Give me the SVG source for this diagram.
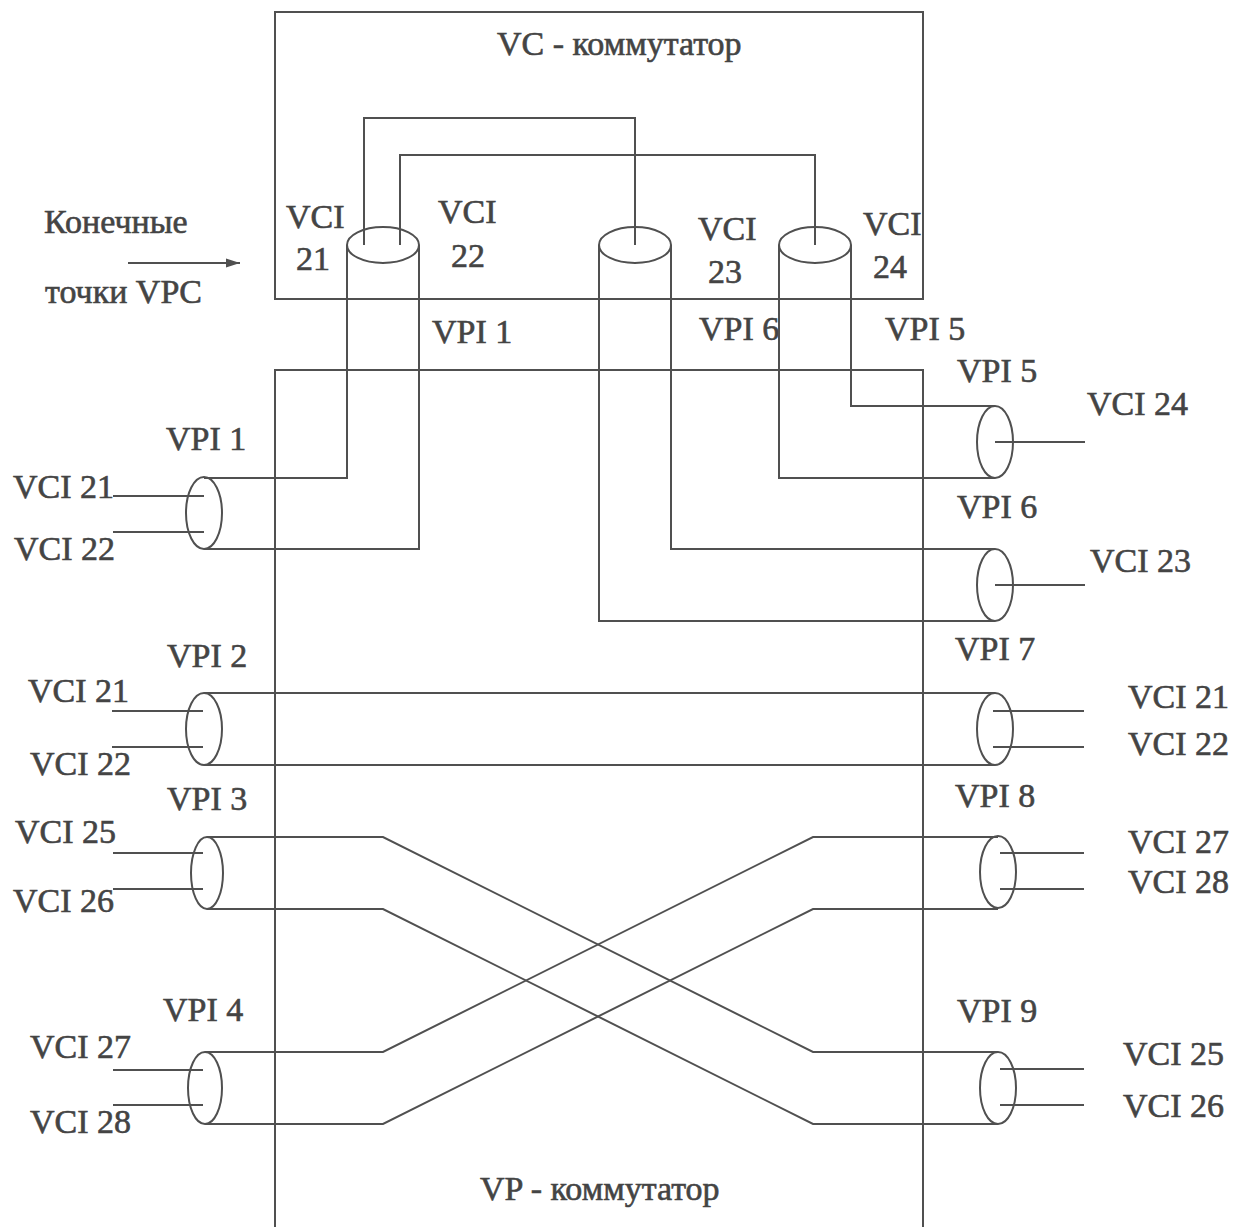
<svg xmlns="http://www.w3.org/2000/svg" width="1245" height="1227" viewBox="0 0 1245 1227">
<style>
  .ln{fill:none;stroke:#505050;stroke-width:2;stroke-linejoin:miter}
  .w{fill:none;stroke:#505050;stroke-width:2}
  .el{fill:none;stroke:#505050;stroke-width:2}
  text{font-family:"Liberation Serif","Times New Roman",serif;font-size:34px;fill:#444;stroke:#444;stroke-width:0.6}
</style>
<defs>
  <marker id="ah" viewBox="0 0 14 10" refX="14" refY="5" markerWidth="14" markerHeight="10" markerUnits="userSpaceOnUse" orient="auto">
    <path d="M0,0.5 L14,5 L0,9.5 z" fill="#505050"/>
  </marker>
</defs>
<rect width="1245" height="1227" fill="#fff"/>

<g id="vc-switch">
  <rect class="ln" x="275" y="12" width="648" height="287"/>
  <text x="497" y="55">VC - коммутатор</text>
</g>

<g id="vp-switch">
  <path class="ln" d="M275,1227 V370 H923 V1227"/>
  <text x="480" y="1200">VP - коммутатор</text>
</g>

<g id="vpc-endpoints">
  <text x="44" y="233">Конечные</text>
  <text x="45" y="303">точки VPC</text>
  <line class="w" x1="128" y1="263" x2="240" y2="263" marker-end="url(#ah)"/>
</g>

<g id="vc-cylinders">
  <g id="vci-21-22">
    <ellipse class="el" cx="383" cy="245" rx="36" ry="18"/>
    <text x="286" y="228">VCI</text><text x="296" y="270">21</text>
    <text x="438" y="223">VCI</text><text x="451" y="267">22</text>
  </g>
  <g id="vci-23">
    <ellipse class="el" cx="635" cy="245" rx="36" ry="18"/>
    <text x="698" y="240">VCI</text><text x="708" y="283">23</text>
  </g>
  <g id="vci-24">
    <ellipse class="el" cx="815" cy="245" rx="36" ry="18"/>
    <text x="863" y="235">VCI</text><text x="873" y="278">24</text>
  </g>
</g>

<g id="vpi-labels-top">
  <text x="432" y="343">VPI 1</text>
  <text x="699" y="340">VPI 6</text>
  <text x="885" y="340">VPI 5</text>
</g>

<g id="left-vpi1">
  <ellipse class="el" cx="204" cy="513" rx="18" ry="36"/>
  <text x="166" y="450">VPI 1</text>
  <text x="13" y="498">VCI 21</text>
  <text x="14" y="560">VCI 22</text>
</g>
<g id="left-vpi2">
  <ellipse class="el" cx="204" cy="729" rx="18" ry="36"/>
  <text x="167" y="667">VPI 2</text>
  <text x="28" y="702">VCI 21</text>
  <text x="30" y="775">VCI 22</text>
</g>
<g id="left-vpi3">
  <ellipse class="el" cx="207" cy="873" rx="16" ry="36"/>
  <text x="167" y="810">VPI 3</text>
  <text x="15" y="843">VCI 25</text>
  <text x="13" y="912">VCI 26</text>
</g>
<g id="left-vpi4">
  <ellipse class="el" cx="205" cy="1088" rx="17" ry="36"/>
  <text x="163" y="1021">VPI 4</text>
  <text x="30" y="1058">VCI 27</text>
  <text x="30" y="1133">VCI 28</text>
</g>

<g id="right-vpi5">
  <ellipse class="el" cx="995" cy="442" rx="18" ry="36"/>
  <text x="957" y="382">VPI 5</text>
  <text x="1087" y="415">VCI 24</text>
</g>
<g id="right-vpi6">
  <ellipse class="el" cx="995" cy="585" rx="18" ry="36"/>
  <text x="957" y="518">VPI 6</text>
  <text x="1090" y="572">VCI 23</text>
</g>
<g id="right-vpi7">
  <ellipse class="el" cx="995" cy="729" rx="18" ry="36"/>
  <text x="955" y="660">VPI 7</text>
  <text x="1128" y="708">VCI 21</text>
  <text x="1128" y="755">VCI 22</text>
</g>
<g id="right-vpi8">
  <ellipse class="el" cx="998" cy="872" rx="18" ry="36"/>
  <text x="955" y="807">VPI 8</text>
  <text x="1128" y="853">VCI 27</text>
  <text x="1128" y="893">VCI 28</text>
</g>
<g id="right-vpi9">
  <ellipse class="el" cx="998" cy="1088" rx="18" ry="36"/>
  <text x="957" y="1022">VPI 9</text>
  <text x="1123" y="1065">VCI 25</text>
  <text x="1123" y="1117">VCI 26</text>
</g>

<g id="connectors">
  <path class="ln" d="M364,245 V118 H635 V245"/>
  <path class="ln" d="M400,245 V155 H815 V245"/>
  <path class="ln" d="M347,245 V478 H204"/>
  <path class="ln" d="M419,245 V549 H204"/>
  <path class="ln" d="M599,245 V621 H995"/>
  <path class="ln" d="M671,245 V549 H995"/>
  <path class="ln" d="M779,245 V478 H995"/>
  <path class="ln" d="M851,245 V406 H995"/>
  <path class="ln" d="M204,693 H995"/>
  <path class="ln" d="M204,765 H995"/>
  <path class="ln" d="M207,837 H383 L813,1052 H998"/>
  <path class="ln" d="M207,909 H383 L813,1124 H998"/>
  <path class="ln" d="M205,1052 H383 L813,837 H998"/>
  <path class="ln" d="M205,1124 H383 L813,909 H998"/>
  <line class="w" x1="113" y1="496" x2="204" y2="496" stroke-width="3"/>
  <line class="w" x1="113" y1="532" x2="204" y2="532" stroke-width="3"/>
  <line class="w" x1="112" y1="711" x2="203" y2="711"/>
  <line class="w" x1="112" y1="747" x2="203" y2="747"/>
  <line class="w" x1="113" y1="853" x2="203" y2="853"/>
  <line class="w" x1="113" y1="889" x2="203" y2="889"/>
  <line class="w" x1="113" y1="1070" x2="203" y2="1070"/>
  <line class="w" x1="113" y1="1105" x2="203" y2="1105"/>
  <line class="w" x1="995" y1="442" x2="1085" y2="442"/>
  <line class="w" x1="995" y1="585" x2="1085" y2="585"/>
  <line class="w" x1="993" y1="711" x2="1084" y2="711"/>
  <line class="w" x1="993" y1="747" x2="1084" y2="747"/>
  <line class="w" x1="1000" y1="853" x2="1084" y2="853"/>
  <line class="w" x1="1000" y1="889" x2="1084" y2="889"/>
  <line class="w" x1="1000" y1="1069" x2="1084" y2="1069"/>
  <line class="w" x1="1000" y1="1105" x2="1084" y2="1105"/>
</g>
</svg>
